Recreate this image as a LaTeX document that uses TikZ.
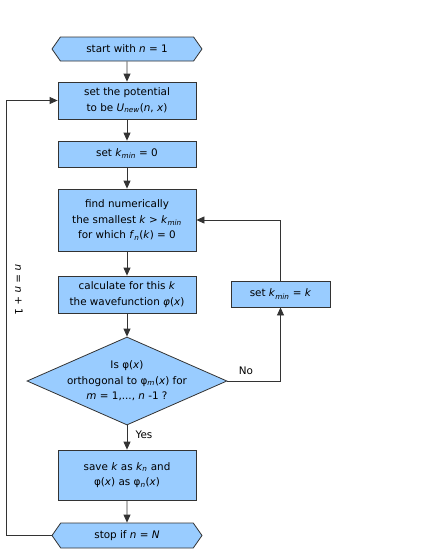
\documentclass[tikz,border=0pt]{standalone}
\usepackage{fontspec}
\setmainfont{DejaVu Sans}
\usetikzlibrary{shapes.geometric,shapes.symbols,arrows.meta}
\definecolor{boxblue}{HTML}{99CCFF}
\definecolor{linegray}{HTML}{333333}
\newcommand{\vv}[1]{\textit{#1}}
\newcommand{\sbs}[1]{\textsubscript{\textit{#1}}}
\begin{document}
\begin{tikzpicture}[x=1pt,y=-1pt,
  font=\fontsize{10.4}{15.5}\selectfont,
  box/.style={draw=linegray, line width=0.8pt, fill=boxblue, minimum width=138pt, align=center, inner sep=2pt},
  hexa/.style={draw=linegray, line width=0.8pt, fill=boxblue, signal, signal to=west and east, signal pointer angle=110, minimum width=150pt, minimum height=24pt, inner sep=1pt},
  dia/.style={draw=linegray, line width=0.8pt, fill=boxblue, diamond, aspect=2.27, minimum width=200pt, minimum height=88pt, inner sep=-8pt, align=center},
  conn/.style={draw=linegray, line width=0.8pt, -{Triangle[length=8pt,width=7pt]}},
  plain/.style={draw=linegray, line width=0.8pt}]
\useasboundingbox (0,0) rectangle (425,550);

\node[hexa] (start) at (127,49) {start with \vv{n} = 1};
\node[box, minimum height=37pt] (b1) at (127,100.5) {set the potential\\to be \vv{U}\sbs{new}(\vv{n}, \vv{x})};
\node[box, minimum height=26pt] (b2) at (127,154) {set \vv{k}\sbs{min} = 0};
\node[box, minimum height=62pt] (b3) at (127,220) {find numerically\\the smallest \vv{k} > \vv{k}\sbs{min}\\for which \vv{f}\sbs{n}(\vv{k}) = 0};
\node[box, minimum height=37pt] (b4) at (127,294.5) {calculate for this \vv{k}\\the wavefunction \vv{φ}(\vv{x})};
\node[dia] (d) at (127,381) {Is φ(\vv{x})\\orthogonal to φ\sbs{m}(\vv{x}) for\\\vv{m} = 1,..., \vv{n} -1 ?};
\node[box, minimum height=50pt] (b5) at (127,475) {save \vv{k} as \vv{k}\sbs{n} and\\φ(\vv{x}) as φ\sbs{n}(\vv{x})};
\node[hexa, minimum height=25pt] (stop) at (127,535.5) {stop if \vv{n} = \vv{N}};
\node[box, minimum width=99pt, minimum height=26pt] (kb) at (280.5,294) {set \vv{k}\sbs{min} = \vv{k}};

\coordinate (lc) at (6,535.5);
\node[rotate=-90] (lbl) at (19,290) {\vv{n} = \vv{n} + 1};
\node (no) at (246,371) {No};
\node (yes) at (144,435) {Yes};

\draw[conn] (start) -- (b1);
\draw[conn] (b1) -- (b2);
\draw[conn] (b2) -- (b3);
\draw[conn] (b3) -- (b4);
\draw[conn] (b4) -- (d);
\draw[conn] (d) -- (b5);
\draw[conn] (b5) -- (stop);
\draw[conn] (stop.west) -- (lc) |- (b1.west);
\draw[conn] (d.east) -| (kb.south);
\draw[conn] (kb.north) |- (b3.east);
\end{tikzpicture}
\end{document}
